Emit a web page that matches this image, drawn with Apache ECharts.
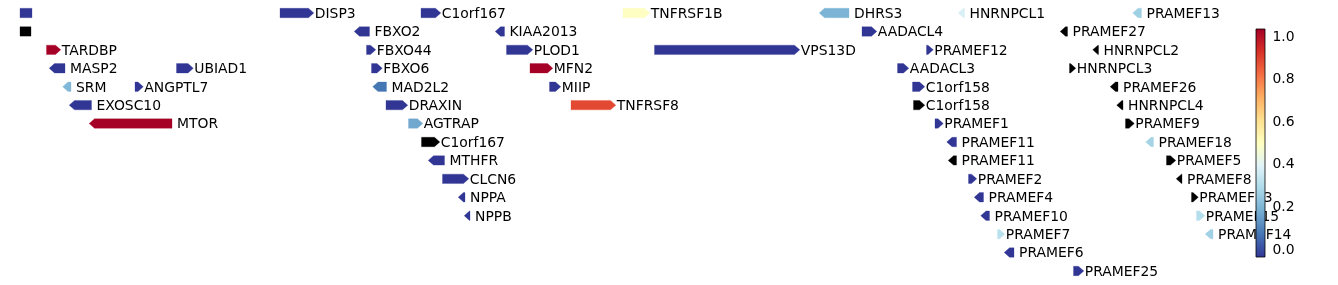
<!DOCTYPE html>
<html><head><meta charset="utf-8">
<script src="https://cdn.jsdelivr.net/npm/echarts@6/dist/echarts.min.js"></script>
<style>html,body{margin:0;padding:0;background:#fff}#c{width:1338px;height:285px}</style>
</head><body><div id="c"></div>
<script>
// gene track data: start/end in kb, row index, strand (+1/-1/0), value (null = no value, drawn black)
const geneNames = ['', 'DISP3', 'C1orf167', 'TNFRSF1B', 'DHRS3', 'HNRNPCL1', 'PRAMEF13',
  '', 'FBXO2', 'KIAA2013', 'AADACL4', 'PRAMEF27',
  'TARDBP', 'FBXO44', 'PLOD1', 'VPS13D', 'PRAMEF12', 'HNRNPCL2',
  'MASP2', 'UBIAD1', 'FBXO6', 'MFN2', 'AADACL3', 'HNRNPCL3',
  'SRM', 'ANGPTL7', 'MAD2L2', 'MIIP', 'C1orf158', 'PRAMEF26',
  'EXOSC10', 'DRAXIN', 'TNFRSF8', 'C1orf158', 'HNRNPCL4',
  'MTOR', 'AGTRAP', 'PRAMEF1', 'PRAMEF9',
  'C1orf167', 'PRAMEF11', 'PRAMEF18',
  'MTHFR', 'PRAMEF11', 'PRAMEF5',
  'CLCN6', 'PRAMEF2', 'PRAMEF8',
  'NPPA', 'PRAMEF4', 'PRAMEF13',
  'NPPB', 'PRAMEF10', 'PRAMEF15',
  'PRAMEF7', 'PRAMEF14',
  'PRAMEF6',
  'PRAMEF25'];
const geneStart = [10970, 11490, 11772, 12176, 12579, 12857, 13206,
  10970, 11649, 11931, 12654, 13061,
  11023, 11663, 11943, 12239, 12783, 13126,
  11039, 11283, 11673, 11990, 12725, 13069,
  11066, 11200, 11686, 12029, 12755, 13161,
  11079, 11702, 12072, 12757, 13174,
  11119, 11747, 12800, 13181,
  11773, 12834, 13232,
  11797, 12837, 13263,
  11815, 12867, 13293,
  11857, 12889, 13313,
  11869, 12902, 13323,
  12925, 13351,
  12949,
  13077];
const geneEnd = [10994, 11547, 11801, 12219, 12628, 12859, 13213,
  10992, 11669, 11939, 12673, 13065,
  11041, 11671, 11985, 12519, 12786, 13127,
  11060, 11306, 11684, 12025, 12737, 13071,
  11072, 11206, 11703, 12041, 12769, 13166,
  11113, 11735, 12151, 12769, 13176,
  11274, 11765, 12806, 13188,
  11799, 12843, 13237,
  11819, 12843, 13271,
  11857, 12873, 13294,
  11860, 12897, 13316,
  11870, 12909, 13329,
  12929, 13356,
  12958,
  13087];
const geneRow = [0, 0, 0, 0, 0, 0, 0,
  1, 1, 1, 1, 1,
  2, 2, 2, 2, 2, 2,
  3, 3, 3, 3, 3, 3,
  4, 4, 4, 4, 4, 4,
  5, 5, 5, 5, 5,
  6, 6, 6, 6,
  7, 7, 7,
  8, 8, 8,
  9, 9, 9,
  10, 10, 10,
  11, 11, 11,
  12, 12,
  13,
  14];
const geneStrand = [0, 1, 1, 1, -1, -1, -1,
  0, -1, -1, 1, -1,
  1, 1, 1, 1, 1, -1,
  -1, 1, 1, 1, 1, 1,
  -1, 1, -1, 1, 1, -1,
  -1, 1, 1, 1, -1,
  -1, 1, 1, 1,
  1, -1, -1,
  -1, -1, 1,
  1, 1, -1,
  -1, -1, 1,
  -1, -1, 1,
  1, -1,
  -1,
  1];
const geneValue = [-0.04, -0.04, -0.04, 0.49, 0.19, 0.37, 0.26,
  null, -0.04, -0.04, -0.04, null,
  1.03, -0.04, -0.04, -0.04, -0.04, null,
  -0.04, -0.04, -0.04, 1.03, -0.04, null,
  0.2, -0.04, 0.07, -0.04, -0.04, null,
  -0.04, -0.04, 0.88, null, null,
  1.03, 0.165, -0.04, null,
  null, -0.04, 0.27,
  -0.04, null, null,
  -0.04, -0.04, null,
  -0.04, -0.04, null,
  -0.04, -0.04, 0.3,
  0.31, 0.26,
  -0.04,
  -0.04];
const colorbarTicks = [0.0, 0.2, 0.4, 0.6, 0.8, 1.0];
const valueMin = -0.04;
const valueMax = 1.03;
const cmap = ['#313695', '#4575b4', '#74add1', '#abd9e9', '#e0f3f8', '#ffffbf',
  '#fee090', '#fdae61', '#f46d43', '#d73027', '#a50026'];

const geneData = geneNames.map((n, i) => [geneStart[i], geneEnd[i], geneRow[i],
  geneValue[i] == null ? NaN : geneValue[i], geneStrand[i]]);

const FONT = 'DejaVu Sans';
const HEAD = 5.3;

function renderGene(params, api) {
  const s = api.value(0), e = api.value(1), r = api.value(2), v = api.value(3), strand = api.value(4);
  const name = geneNames[params.dataIndex];
  const p0 = api.coord([s, r]);
  const p1 = api.coord([e, r]);
  const h = api.size([0, 1])[1] * 0.51;
  const cy = p0[1], top = cy - h / 2, bot = cy + h / 2;
  let pts;
  if (strand > 0) pts = [[p0[0], top], [p1[0], top], [p1[0] + HEAD, cy], [p1[0], bot], [p0[0], bot]];
  else if (strand < 0) pts = [[p0[0] - HEAD, cy], [p0[0], top], [p1[0], top], [p1[0], bot], [p0[0], bot]];
  else pts = [[p0[0], top], [p1[0], top], [p1[0], bot], [p0[0], bot]];
  const color = isNaN(v) ? '#000000' : api.visual('color');
  const children = [{ type: 'polygon', shape: { points: pts }, style: { fill: color, stroke: color, lineWidth: 0.3 } }];
  if (name) {
    children.push({ type: 'text', style: {
      text: name, x: p1[0] + (strand > 0 ? HEAD + 1 : 5), y: cy + 1.3,
      align: 'left', verticalAlign: 'middle', fontSize: 13.9, fontFamily: FONT, fill: '#000000' } });
  }
  return { type: 'group', children };
}

function renderColorbar(params, api) {
  const a = api.coord([api.value(0), api.value(3)]);
  const b = api.coord([api.value(2), api.value(1)]);
  return { type: 'rect', shape: { x: a[0], y: a[1], width: b[0] - a[0], height: b[1] - a[1] },
    style: { fill: { type: 'linear', x: 0, y: 1, x2: 0, y2: 0,
      colorStops: cmap.map((c, i) => ({ offset: i / (cmap.length - 1), color: c })) },
      stroke: '#000000', lineWidth: 0.8 } };
}

const chart = echarts.init(document.getElementById('c'), null, { renderer: 'canvas' });
chart.setOption({
  animation: false,
  backgroundColor: '#ffffff',
  grid: [
    { left: 0, width: 1240, top: 3.79, height: 276.4 },
    { left: 1256, width: 9, top: 29, height: 228 }
  ],
  xAxis: [
    { type: 'value', gridIndex: 0, min: 10930, max: 13410, show: false },
    { type: 'value', gridIndex: 1, min: 0, max: 1, show: false }
  ],
  yAxis: [
    { type: 'value', gridIndex: 0, min: -0.5, max: 14.5, inverse: true, show: false },
    { type: 'value', gridIndex: 1, min: valueMin, max: valueMax, position: 'right',
      axisLine: { show: false }, splitLine: { show: false },
      axisTick: { show: true, length: 3.5, customValues: colorbarTicks, lineStyle: { color: '#000', width: 0.8 } },
      axisLabel: { show: true, customValues: colorbarTicks, margin: 7.5, color: '#000',
        fontSize: 13.9, fontFamily: FONT, formatter: v => '{t|' + v.toFixed(1) + '}',
        rich: { t: { fontSize: 13.9, fontFamily: FONT, color: '#000', padding: [3, 0, 0, 0] } } } }
  ],
  visualMap: { type: 'continuous', show: false, min: valueMin, max: valueMax, dimension: 3,
    seriesIndex: 0, inRange: { color: cmap } },
  series: [
    { type: 'custom', xAxisIndex: 0, yAxisIndex: 0, renderItem: renderGene, data: geneData,
      encode: { x: [0, 1], y: 2 }, z: 2, clip: false },
    { type: 'custom', xAxisIndex: 1, yAxisIndex: 1, renderItem: renderColorbar,
      data: [[0, valueMin, 1, valueMax]], encode: { x: [0, 2], y: [1, 3] }, z: 10 }
  ]
});
</script></body></html>
